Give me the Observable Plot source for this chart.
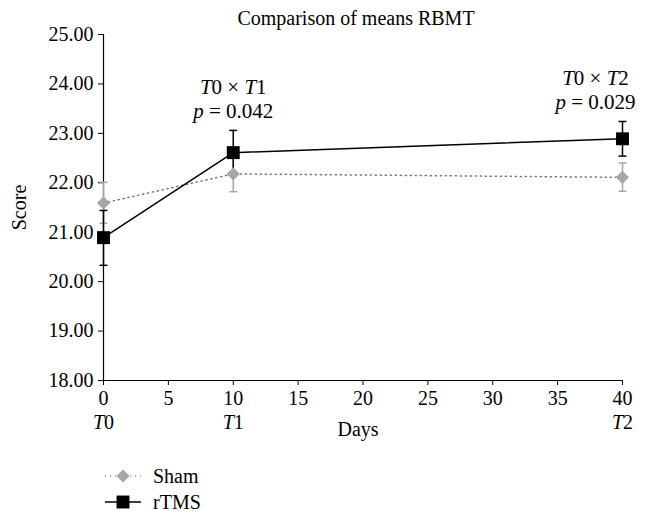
<!DOCTYPE html>
<html>
<head>
<meta charset="utf-8">
<script src="https://cdn.jsdelivr.net/npm/d3@7"></script>
<script src="https://cdn.jsdelivr.net/npm/@observablehq/plot@0.6"></script>
<style>
  html, body { margin: 0; padding: 0; background: #fff; }
  body { width: 649px; height: 511px; overflow: hidden; font-family: "Liberation Serif", "DejaVu Serif", serif; }
  #chart svg { display: block; }
  #legend { position: relative; margin-left: 105px; margin-top: 13px; font-size: 20px; color: #000; }
  #legend .row { display: flex; align-items: center; height: 26px; }
  #legend svg { margin-right: 12px; display: block; }
</style>
</head>
<body>
<div id="chart"></div>
<div id="legend"></div>
<script>
const titleText = "Comparison of means RBMT";
const series = ["Sham", "rTMS"];
const days = [0, 10, 40];
const phases = ["T0", "T1", "T2"];
const shamMean = [21.59, 22.18, 22.11];
const shamLo   = [21.18, 21.82, 21.83];
const shamHi   = [22.01, 22.54, 22.40];
const rtmsMean = [20.89, 22.61, 22.89];
const rtmsLo   = [20.33, 22.16, 22.54];
const rtmsHi   = [21.44, 23.06, 23.24];
const yTicks = [18, 19, 20, 21, 22, 23, 24, 25];
const xTicks = [0, 5, 10, 15, 20, 25, 30, 35, 40];
const annDays = [10, 40];
const annLine1 = ["T0 × T1", "T0 × T2"];
const annLine2 = ["p = 0.042", "p = 0.029"];
const annTop = [23.06, 23.24];

const grey = "#a6a6a6";
const sham = days.map((d, i) => ({day: d, mean: shamMean[i], lo: shamLo[i], hi: shamHi[i]}));
const rtms = days.map((d, i) => ({day: d, mean: rtmsMean[i], lo: rtmsLo[i], hi: rtmsHi[i]}));
const phaseData = days.map((d, i) => ({day: d, label: phases[i]}));
const ann = annDays.map((d, i) => ({day: d, l1: annLine1[i], l2: annLine2[i], top: annTop[i]}));

const capSymbol = {
  draw(ctx, size) {
    const w = Math.sqrt(size);
    ctx.moveTo(-w / 2, 0);
    ctx.lineTo(w / 2, 0);
  }
};
const capR = Math.sqrt(64 / Math.PI);

const fontSize = 20;
const plot = Plot.plot({
  width: 649,
  height: 450,
  marginLeft: 103,
  marginRight: 27,
  marginTop: 34,
  marginBottom: 70,
  style: {fontFamily: "'Liberation Serif', 'DejaVu Serif', serif", fontSize: fontSize + "px", color: "#000", background: "#fff"},
  x: {domain: [0, 40]},
  y: {domain: [18, 25]},
  marks: [
    Plot.axisY({ticks: yTicks, tickFormat: d => d.toFixed(2), tickSize: 5, tickPadding: 5,
      label: "Score", labelAnchor: "center", labelArrow: "none", labelOffset: 92, fontSize: fontSize}),
    Plot.axisX({ticks: xTicks, tickSize: 5, tickPadding: 5, label: null, fontSize: fontSize}),
    Plot.ruleY([18], {stroke: "#000", strokeWidth: 1.2}),
    Plot.ruleX([0], {stroke: "#000", strokeWidth: 1.2}),
    // error bars
    Plot.ruleX(sham, {x: "day", y1: "lo", y2: "hi", stroke: grey, strokeWidth: 1.5}),
    Plot.dot(sham, {x: "day", y: "lo", symbol: capSymbol, r: capR, stroke: grey, strokeWidth: 1.5}),
    Plot.dot(sham, {x: "day", y: "hi", symbol: capSymbol, r: capR, stroke: grey, strokeWidth: 1.5}),
    Plot.ruleX(rtms, {x: "day", y1: "lo", y2: "hi", stroke: "#000", strokeWidth: 1.5}),
    Plot.dot(rtms, {x: "day", y: "lo", symbol: capSymbol, r: capR, stroke: "#000", strokeWidth: 1.5}),
    Plot.dot(rtms, {x: "day", y: "hi", symbol: capSymbol, r: capR, stroke: "#000", strokeWidth: 1.5}),
    // lines
    Plot.line(sham, {x: "day", y: "mean", stroke: "#777", strokeWidth: 1.5, strokeDasharray: "1.2,3.8"}),
    Plot.line(rtms, {x: "day", y: "mean", stroke: "#000", strokeWidth: 1.5}),
    // markers
    Plot.dot(rtms, {x: "day", y: "mean", symbol: "square", r: 7.3, fill: "#000", stroke: "none"}),
    Plot.dot(sham, {x: "day", y: "mean", symbol: "diamond2", r: 5.9, fill: grey, stroke: "none"}),
    // phase labels & axis title
    Plot.text(phaseData, {x: "day", text: "label", frameAnchor: "bottom", dy: 48, fontSize: fontSize}),
    Plot.text(["Days"], {frameAnchor: "bottom", dy: 55, dx: -5, fontSize: fontSize}),
    // title
    Plot.text([titleText], {frameAnchor: "top", dy: -24, dx: -7, fontSize: fontSize}),
    // annotations
    Plot.text(ann, {x: "day", y: "top", text: "l1", dy: -43, fontSize: 21, textAnchor: "middle"}),
    Plot.text(ann, {x: "day", y: "top", text: "l2", dy: -19, fontSize: 21, textAnchor: "middle"})
  ]
});
document.getElementById("chart").appendChild(plot);

// shift the T2 annotation left so it stays inside the frame (as in the original)
d3.select(plot).selectAll("text").each(function() {
  const t = this.textContent;
  if (/^T0 × T2$|^p = 0\.029$/.test(t)) {
    const cur = this.getAttribute("transform") || "";
    this.setAttribute("transform", cur + " translate(-27,0)");
  }
});

// italicise the math letters
d3.select(plot).selectAll("text").each(function() {
  const t = this.textContent;
  if (/^(T\d( × T\d)?|p = [\d.]+)$/.test(t)) {
    const sel = d3.select(this);
    sel.text(null);
    for (const ch of t.split(/(T|p)/).filter(s => s.length)) {
      const ts = sel.append("tspan").text(ch);
      if (ch === "T" || ch === "p") ts.attr("font-style", "italic");
    }
  }
});

// legend
const legend = d3.select("#legend");
function addRow(name, kind) {
  const row = legend.append("div").attr("class", "row");
  const s = row.append("svg").attr("width", 36).attr("height", 16);
  if (kind === "sham") {
    s.append("line").attr("x1", 0).attr("x2", 36).attr("y1", 8).attr("y2", 8)
      .attr("stroke", "#999").attr("stroke-width", 1.5).attr("stroke-dasharray", "1.2,3.8");
    s.append("path").attr("d", d3.symbol(d3.symbolDiamond2, Math.PI * 5.9 * 5.9)()).attr("transform", "translate(18,8)").attr("fill", grey);
  } else {
    s.append("line").attr("x1", 0).attr("x2", 36).attr("y1", 8).attr("y2", 8)
      .attr("stroke", "#000").attr("stroke-width", 1.5);
    s.append("path").attr("d", d3.symbol(d3.symbolSquare, Math.PI * 7.3 * 7.3)()).attr("transform", "translate(18,8)").attr("fill", "#000");
  }
  row.append("span").text(name);
}
addRow(series[0], "sham");
addRow(series[1], "rtms");
</script>
</body>
</html>
